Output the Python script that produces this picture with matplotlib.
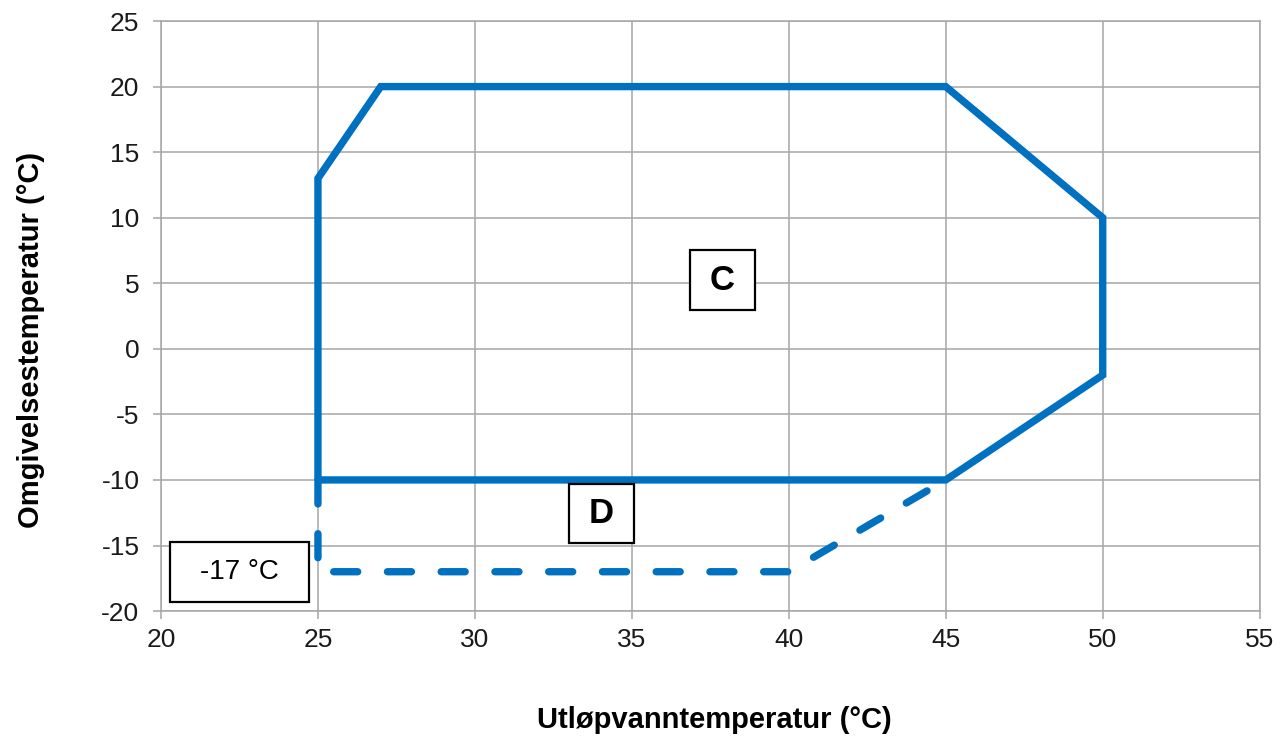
import matplotlib
matplotlib.use("Agg")
import matplotlib.pyplot as plt
from matplotlib.patches import Rectangle

plt.rcParams["font.family"] = ["Liberation Sans", "DejaVu Sans"]
plt.rcParams["lines.scale_dashes"] = False
plt.rcParams["axes.unicode_minus"] = False

# Operating envelope (solid) - outlet water temp vs ambient temp
env_x = [25, 25, 27, 45, 50, 50, 45, 25]
env_y = [-10, 13, 20, 20, 10, -2, -10, -10]

# Extended range (dashed) down to -17 °C
ext_x = [25, 25, 40, 45]
ext_y = [-10, -17, -17, -10]

# Annotation boxes: (label, x0, y0, x1, y1, bold, fontsize)
boxes = [
    ("C", 36.85, 2.95, 38.92, 7.53, True, 25),
    ("D", 33.0, -14.8, 35.06, -10.3, True, 25),
    ("-17 °C", 20.29, -19.3, 24.71, -14.74, False, 20),
]

blue = "#0070C0"
grid_grey = "#A6A6A6"

fig = plt.figure(figsize=(12.88, 7.38), dpi=100)
ax = fig.add_axes([0.125, 0.172, 0.853, 0.7995])

ax.plot(env_x, env_y, color=blue, linewidth=5.3, solid_joinstyle="miter",
        solid_capstyle="butt", zorder=3)
ax.plot(ext_x, ext_y, color=blue, linewidth=5.3, dashes=(17.3, 21.4),
        dash_capstyle="round", dash_joinstyle="round", zorder=3)

ax.set_xlim(20, 55)
ax.set_ylim(-20, 25)
ax.set_xticks(range(20, 56, 5))
ax.set_yticks(range(-20, 26, 5))

ax.grid(True, color=grid_grey, linewidth=1.1)
ax.set_axisbelow(True)
for s in ax.spines.values():
    s.set_color(grid_grey)
    s.set_linewidth(1.1)

ax.tick_params(axis="both", direction="out", length=5.5, width=1.1,
               color=grid_grey, labelsize=19, labelcolor="#1a1a1a")
ax.tick_params(axis="x", pad=7)
ax.tick_params(axis="y", pad=10)

for label, x0, y0, x1, y1, bold, fs in boxes:
    ax.add_patch(Rectangle((x0, y0), x1 - x0, y1 - y0, facecolor="white",
                           edgecolor="black", linewidth=1.6, zorder=4,
                           clip_on=False))
    ax.text((x0 + x1) / 2, (y0 + y1) / 2, label, ha="center", va="center",
            fontsize=fs, fontweight="bold" if bold else "normal",
            color="black", zorder=5)

fig.text(0.555, 0.006, "Utløpvanntemperatur (°C)", ha="center", va="bottom",
         fontsize=21, fontweight="bold")
fig.text(0.024, 0.539, "Omgivelsestemperatur (°C)", ha="center", va="center",
         rotation=90, fontsize=21, fontweight="bold")

fig.savefig("out.png", dpi=100)
